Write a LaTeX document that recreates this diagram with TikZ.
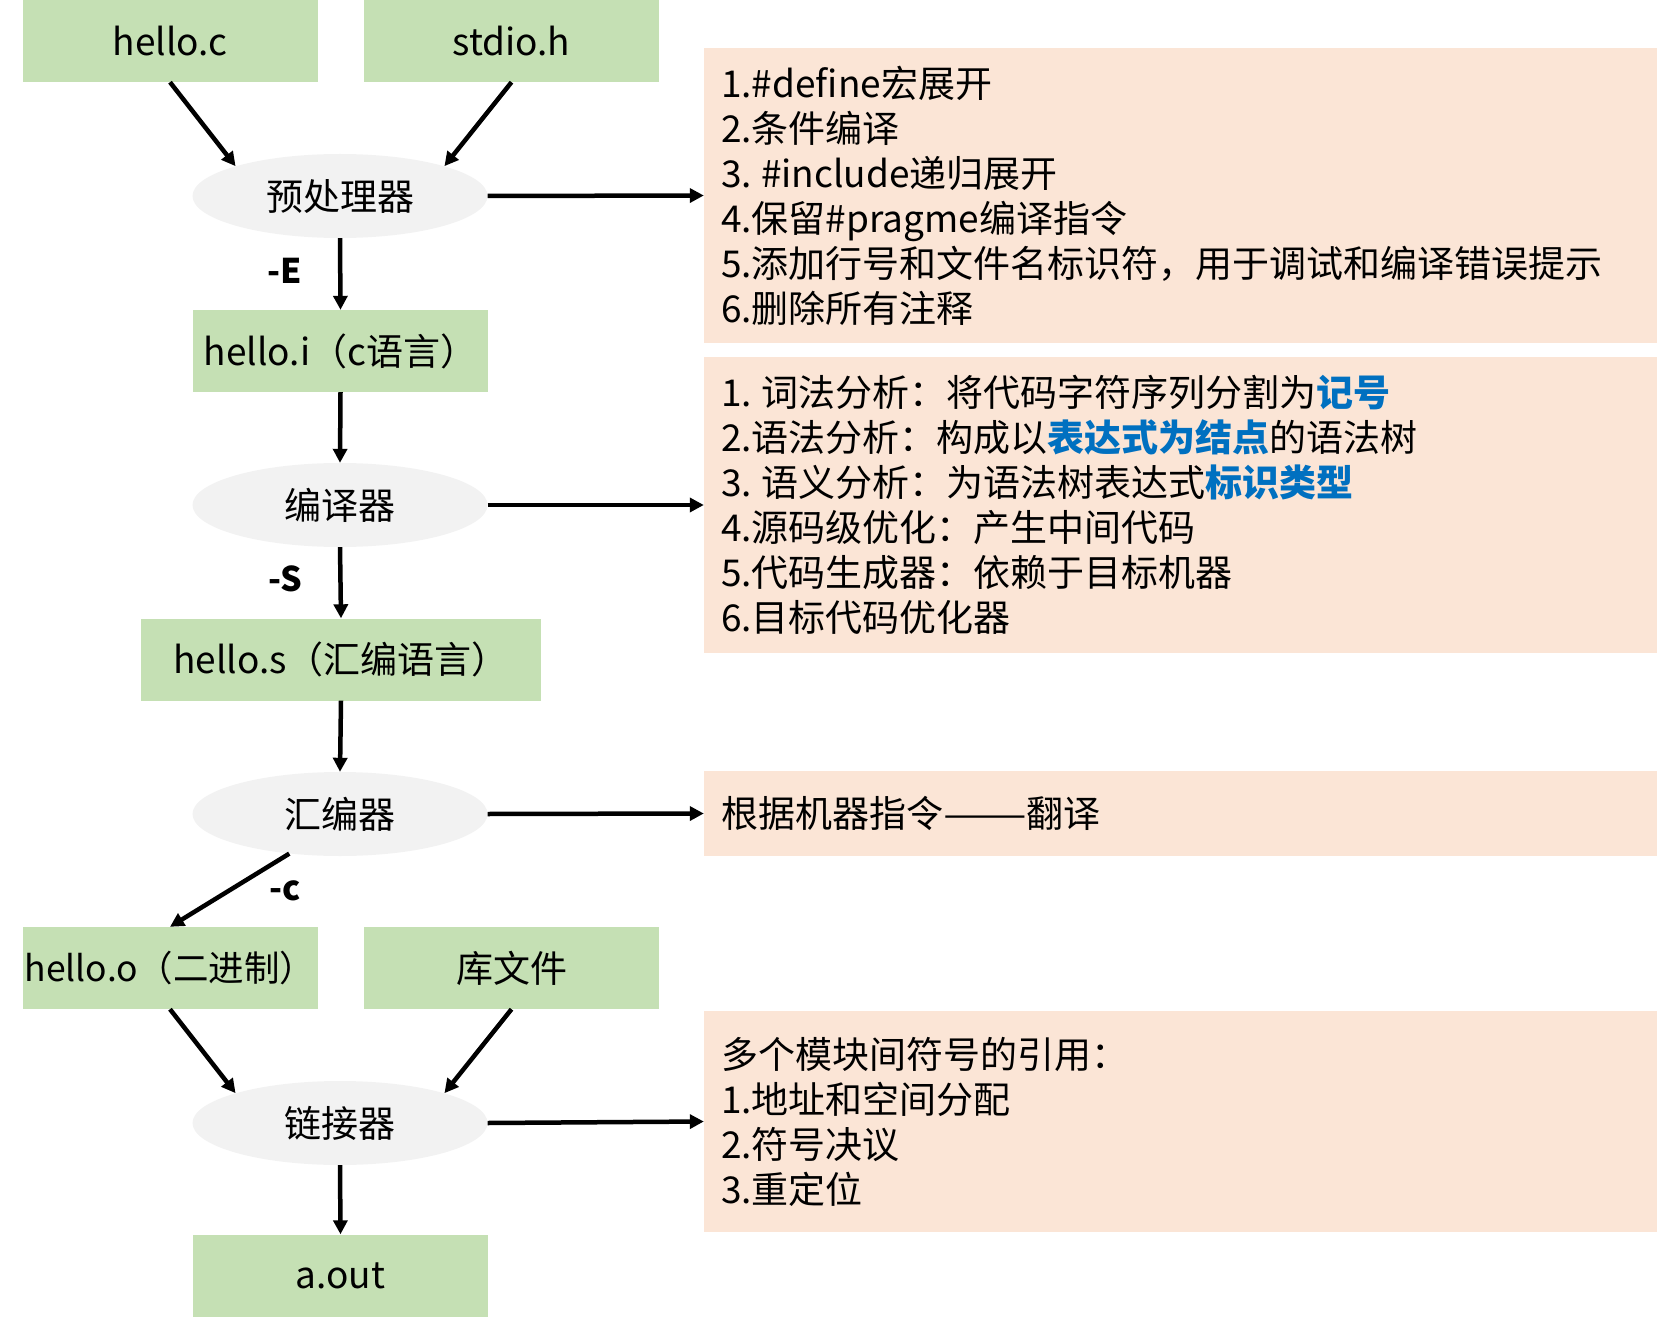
\documentclass[tikz,border=0pt]{standalone}
\usepackage{fontspec}
\setmainfont{Noto Sans CJK SC}
\usetikzlibrary{arrows.meta,shapes.geometric}
\definecolor{gfill}{HTML}{C5E0B4}
\definecolor{ofill}{HTML}{FBE5D6}
\definecolor{efill}{HTML}{F2F2F2}
\definecolor{hl}{HTML}{0070C0}
\newcommand{\hlt}[1]{\textcolor{hl}{\bfseries #1}}
\newcommand{\gap}{\hspace{0.25em}}
\begin{document}
\begin{tikzpicture}[x=1pt,y=-1pt,
  font=\fontsize{37}{45}\selectfont,
  filebox/.style={fill=gfill, minimum width=295pt, minimum height=82pt, inner sep=0pt},
  proc/.style={ellipse, fill=efill, minimum width=295pt, minimum height=84pt, inner sep=0pt},
  note/.style={fill=ofill, text width=919pt, inner xsep=17pt, inner ysep=0pt, align=left},
  arr/.style={line width=4.5pt, -{Triangle[length=14pt,width=14pt]}},
  flag/.style={font=\fontsize{34}{34}\selectfont\bfseries}
]
\useasboundingbox (0,0) rectangle (1657,1321);

% left column
\node[filebox] (hc) at (170,41) {hello.c};
\node[filebox] (sh) at (511.5,41) {stdio.h};
\node[proc] (pre) at (340,196) {预处理器};
\node[filebox] (hi) at (340.5,351) {hello.i（c语言）};
\node[proc] (comp) at (340,505) {编译器};
\node[filebox, minimum width=400pt] (hs) at (341,659.5) {hello.s（汇编语言）};
\node[proc] (asm) at (340,814) {汇编器};
\node[filebox] (ho) at (170,968) {\makebox[280pt][c]{\fontsize{35.5}{45}\selectfont hello.o（二进制）}};
\node[filebox] (lib) at (511.5,968) {库文件};
\node[proc] (link) at (340,1123) {链接器};
\node[filebox] (aout) at (340.5,1275.5) {a.out};

% notes
\node[note, minimum height=295pt] (n1) at (1180.5,195.5) {1.\#define宏展开\\2.条件编译\\3.\gap\#include递归展开\\4.保留\#pragme编译指令\\5.添加行号和文件名标识符，用于调试和编译错误提示\\6.删除所有注释};
\node[note, minimum height=296pt] (n2) at (1180.5,505) {1.\gap 词法分析：将代码字符序列分割为\hlt{记号}\\2.语法分析：构成以\hlt{表达式为结点}的语法树\\3.\gap 语义分析：为语法树表达式\hlt{标识类型}\\4.源码级优化：产生中间代码\\5.代码生成器：依赖于目标机器\\6.目标代码优化器};
\node[note, minimum height=85pt] (n3) at (1180.5,813.5) {根据机器指令\scalebox{1.35}[1]{——}翻译};
\node[note, minimum height=221pt] (n4) at (1180.5,1121.5) {多个模块间符号的引用：\\1.地址和空间分配\\2.符号决议\\3.重定位};

% flags
\node[flag] (fe) at (285,271) {-E};
\node[flag] (fs) at (285,579) {-S};
\node[flag] (fc) at (285,891) {-c};

% connectors
\draw[arr] (hc.south) -- (pre.north west);
\draw[arr] (sh.south) -- (pre.north east);
\draw[arr] (pre.south) -- (hi.north);
\draw[arr] (hi.south) -- (comp.north);
\draw[arr] (comp.south) -- (hs.north);
\draw[arr] (hs.south) -- (asm.north);
\draw[arr] (asm.218) -- (ho.north);
\draw[arr] (ho.south) -- (link.north west);
\draw[arr] (lib.south) -- (link.north east);
\draw[arr] (link.south) -- (aout.north);
\draw[arr] (pre.east) -- (n1.west);
\draw[arr] (comp.east) -- (n2.west);
\draw[arr] (asm.east) -- (n3.west);
\draw[arr] (link.east) -- (n4.west);
\end{tikzpicture}
\end{document}
